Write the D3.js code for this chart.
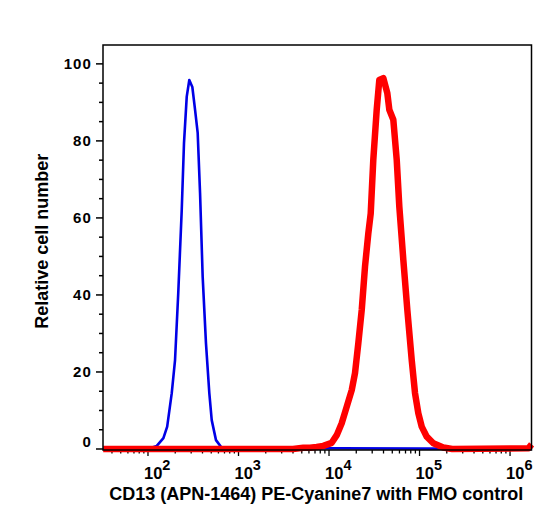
<!DOCTYPE html>
<html><head><meta charset="utf-8">
<script src="https://cdn.jsdelivr.net/npm/d3@7"></script>
<style>body{margin:0;background:#fff}svg{display:block}text{font-family:"Liberation Sans",Arial,sans-serif;font-weight:bold;fill:#000}</style>
</head><body>
<svg id="c" width="552" height="521"></svg>
<script>
// Data
const blueX = [32, 105, 125, 148, 163, 183, 199, 216, 236, 250, 268, 286, 309, 331, 354, 376, 402, 437, 476, 506, 564, 652, 1730000];
const blueY = [0, 0.2, 0.8, 2.8, 5.8, 14.5, 23.1, 40.5, 62.1, 79.5, 91.5, 95.8, 94.0, 88.1, 82.1, 66.5, 44.7, 27.5, 14.5, 7.5, 2.3, 0.3, 0];
const redX = [32, 4000, 5200, 6166, 7300, 8650, 10710, 12170, 13810, 15700, 17820, 19370, 21080, 22980, 24990, 27180, 28890, 30850, 33640, 35940, 39810, 44060, 46360, 51330, 55970, 59810, 66230, 73330, 81970, 89170, 96990, 105700, 120100, 142000, 183200, 230000, 1600000, 1730000];
const redY = [0, 0, 0.3, 0.3, 0.5, 0.8, 1.6, 3.6, 6.7, 11.0, 15.3, 19.7, 27.5, 36.1, 47.4, 56.0, 61.2, 75.1, 88.1, 95.8, 96.3, 92.4, 88.1, 85.5, 75.1, 62.9, 49.1, 36.1, 23.1, 14.5, 9.3, 5.8, 3.2, 1.5, 0.4, 0, 0.2, 1.2];
const yTickValues = [0, 20, 40, 60, 80, 100];
const xTickExponents = [2, 3, 4, 5, 6];
const xTitle = "CD13 (APN-1464) PE-Cyanine7 with FMO control";
const yTitle = "Relative cell number";

const svg = d3.select("#c");
const L = 103, R = 531.5, T = 45, B = 450;
const x = d3.scaleLog().domain([Math.pow(10, 1.503), Math.pow(10, 6.237)]).range([L, R]);
const y = d3.scaleLinear().domain([-0.26, 104.9]).range([B, T]);

// y ticks
const yMinor = d3.range(0, 105, 5);
svg.append("g").selectAll("line").data(yMinor).join("line")
  .attr("x1", d => yTickValues.includes(d) ? L - 7 : L - 4).attr("x2", L)
  .attr("y1", d => y(d)).attr("y2", d => y(d))
  .attr("stroke", "#000").attr("stroke-width", 1.5);
svg.append("g").selectAll("text").data(yTickValues).join("text")
  .attr("x", 92).attr("y", d => y(d) + (d === 0 ? -7 : 0)).attr("dy", "0.36em")
  .attr("text-anchor", "end").attr("font-size", 15).attr("letter-spacing", 1.1)
  .text(d => d);

// x ticks
const xt = x.ticks().filter(v => v >= x.domain()[0] && v <= x.domain()[1]);
svg.append("g").selectAll("line").data(xt).join("line")
  .attr("x1", d => x(d)).attr("x2", d => x(d))
  .attr("y1", B).attr("y2", d => Math.abs(Math.log10(d) - Math.round(Math.log10(d))) < 1e-9 ? B + 6 : B + 3.5)
  .attr("stroke", "#000").attr("stroke-width", 1.3);
const xl = svg.append("g").selectAll("text").data(xTickExponents).join("text")
  .attr("x", d => x(Math.pow(10, d)) - 4).attr("y", 479)
  .attr("font-size", 16.5);
xl.append("tspan").text("10");
xl.append("tspan").attr("dy", -9).attr("font-size", 14.5).text(d => d);

// curves
const line = d3.line().x(d => x(d[0])).y(d => y(d[1]));
svg.append("path").datum(blueX.map((v, i) => [v, blueY[i]]))
  .attr("d", line).attr("fill", "none").attr("stroke", "#0000e6")
  .attr("stroke-width", 2.6).attr("stroke-linejoin", "round");
svg.append("path").datum(redX.map((v, i) => [v, redY[i]]))
  .attr("d", line).attr("fill", "none").attr("stroke", "#ff0000")
  .attr("stroke-width", 6.5).attr("stroke-linejoin", "round");

// frame
svg.append("rect").attr("x", L).attr("y", T).attr("width", R - L).attr("height", B - T)
  .attr("fill", "none").attr("stroke", "#000").attr("stroke-width", 1.5);

// titles
svg.append("text").attr("x", 316.3).attr("y", 500).attr("text-anchor", "middle")
  .attr("font-size", 18).text(xTitle);
svg.append("text").attr("transform", "translate(48.3,241.3) rotate(-90)")
  .attr("text-anchor", "middle").attr("font-size", 18).text(yTitle);
</script>
</body></html>
